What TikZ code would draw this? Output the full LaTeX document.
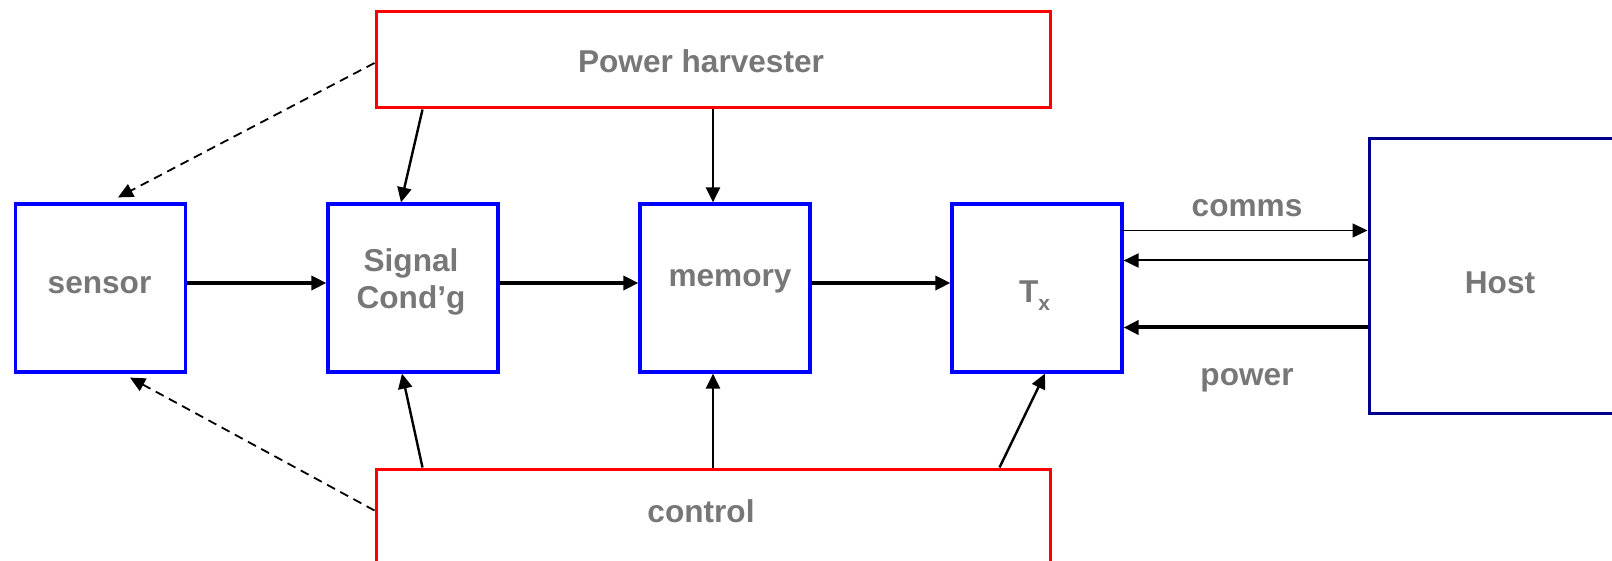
\documentclass[tikz,border=0pt]{standalone}
\usepackage{fontspec}
\setmainfont{Liberation Sans}
\usetikzlibrary{arrows.meta}
\definecolor{bxblue}{RGB}{0,0,255}
\definecolor{bxred}{RGB}{255,0,0}
\definecolor{bxnavy}{RGB}{0,0,140}
\definecolor{txtgray}{RGB}{119,119,119}
\tikzset{
  box/.style={draw, rectangle, inner sep=0pt, line width=1.5pt},
  bluebox/.style={box, draw=bxblue, line width=1.6pt, minimum width=85pt, minimum height=84pt},
  redbox/.style={box, draw=bxred, minimum width=337pt},
  hostbox/.style={box, draw=bxnavy, minimum width=215.5pt, minimum height=137pt},
  lbl/.style={anchor=base, inner sep=0pt, text=txtgray, font=\fontsize{15.8pt}{19pt}\selectfont\bfseries},
  arr/.style={-{Triangle[length=7.5pt,width=7pt]}, draw=black},
  dasharr/.style={arr, line width=0.9pt, dash pattern=on 4.5pt off 3pt},
}
\begin{document}
\begin{tikzpicture}[x=0.5pt,y=-0.5pt]
\clip (0,0) rectangle (1612,561);
% boxes
\node[redbox, minimum height=48pt] (ph) at (713,60) {};
\node[redbox, minimum height=90.5pt] (ctrl) at (713,559.5) {};
\node[bluebox] (sensor) at (100.5,288) {};
\node[bluebox] (sig) at (413,288) {};
\node[bluebox] (mem) at (725,288) {};
\node[bluebox] (tx) at (1037,288) {};
\node[hostbox] (host) at (1584.5,276) {};
% labels
\node[lbl] (phT) at (701,73) {Power harvester};
\node[lbl] (ctrlT) at (701,522) {control};
\node[lbl] (sensorT) at (99.5,293) {sensor};
\node[lbl] (sigA) at (411,271) {Signal};
\node[lbl] (sigB) at (411,309) {Cond’g};
\node[lbl] (memT) at (730,287) {memory};
\node[lbl] (txT) at (1034.5,303) {T\raisebox{-3.75pt}{\fontsize{10.5pt}{10.5pt}\selectfont x}};
\node[lbl] (hostT) at (1500,294) {Host};
\node[lbl] (commsT) at (1247,217) {comms};
\node[lbl] (powerT) at (1247,386) {power};
% power harvester connectors
\draw[dasharr] ([yshift=-1.5pt]ph.west) -- ([xshift=8.75pt,yshift=2.5pt]sensor.north);
\draw[arr, line width=1.2pt] ([xshift=24pt]ph.south west) -- ([xshift=-6pt]sig.north);
\draw[arr, line width=1.2pt] (ph.south) -- (ph.south |- mem.north);
% main chain
\draw[arr, line width=1.7pt] ([yshift=2.5pt]sensor.east) -- ([yshift=2.5pt]sig.west);
\draw[arr, line width=1.7pt] ([yshift=2.5pt]sig.east) -- ([yshift=2.5pt]mem.west);
\draw[arr, line width=1.7pt] ([yshift=2.5pt]mem.east) -- ([yshift=2.5pt]tx.west);
% host links
\coordinate (cA) at ([yshift=28.75pt]tx.east);
\coordinate (cB) at ([yshift=13.75pt]tx.east);
\coordinate (cC) at ([yshift=-19.75pt]tx.east);
\draw[arr, line width=0.7pt] ([xshift=-1.5pt]cA) -- (cA -| host.west);
\draw[arr, line width=1pt] (cB -| host.west) -- (cB);
\draw[arr, line width=2pt] (cC -| host.west) -- (cC);
% control connectors
\draw[dasharr] ([yshift=-21.5pt]ctrl.north west) -- ([xshift=14.75pt,yshift=-2pt]sensor.south);
\draw[arr, line width=1.2pt] ([xshift=24pt]ctrl.north west) -- ([xshift=-5.5pt]sig.south);
\draw[arr, line width=1.2pt] (ctrl.north) -- (ctrl.north |- mem.south);
\draw[arr, line width=1.2pt] ([xshift=312.5pt]ctrl.north west) -- ([xshift=4pt]tx.south);
\end{tikzpicture}
\end{document}
